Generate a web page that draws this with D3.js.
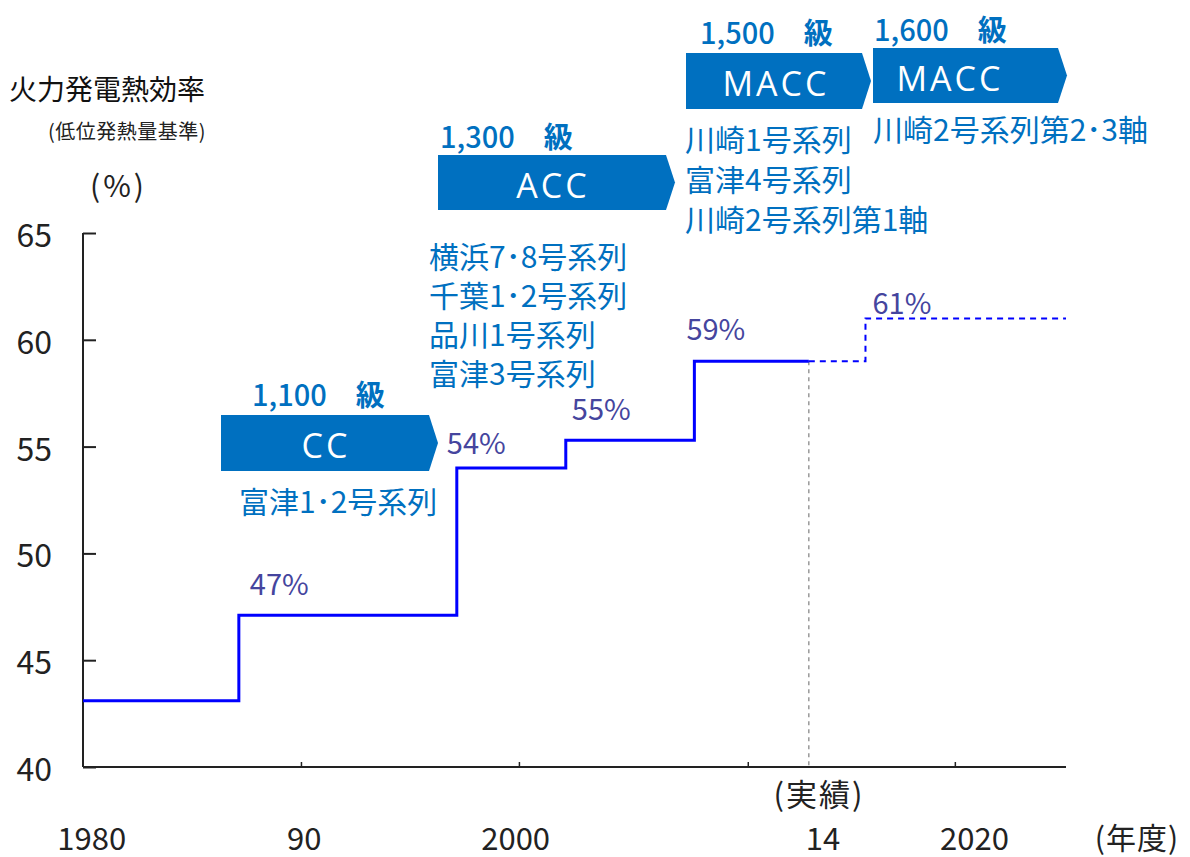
<!DOCTYPE html>
<meta charset="utf-8">
<style>
body { margin: 0; background: #fff; }
text { font-family: "Noto Sans CJK JP", "Noto Sans", sans-serif; }
.blue { fill: #0070c0; }
</style>
<script src="https://d3js.org/d3.v7.min.js"></script>
<div id="chart"></div>
<script>

// ---- data ----
var stepYears   = [1980, 1987.15, 1997.15, 2002.15, 2008.05, 2013.3];
var stepValues  = [43.1, 47.1, 54.0, 55.3, 59.0, 59.0];
var planYears   = [2013.3, 2015.9, 2025.1];
var planValues  = [59.0, 61.0, 61.0];
var pctLabels   = ["47%", "54%", "55%", "59%", "61%"];
var pctYears    = [1987.15, 1997.15, 2002.15, 2008.05, 2015.9];
var pctValues   = [47.1, 54.0, 55.3, 59.0, 61.0];
var actualYear  = 2013.3;

var yTicks      = [40, 45, 50, 55, 60, 65];
var xTickYears  = [1990, 2000, 2010.5, 2020];
var xLabelText  = ["1980", "90", "2000", "14", "2020"];
var xLabelYears = [1980.4, 1990.15, 1999.85, 2013.95, 2020.9];

var classNames  = ["CC", "ACC", "MACC", "MACC"];
var classLevels = ["1,100", "1,300", "1,500", "1,600"];
var classPlants = [
  ["富津1･2号系列"],
  ["横浜7･8号系列", "千葉1･2号系列", "品川1号系列", "富津3号系列"],
  ["川崎1号系列", "富津4号系列", "川崎2号系列第1軸"],
  ["川崎2号系列第2･3軸"]
];

// ---- layout ----
var W = 1190, H = 857;
var x = d3.scaleLinear().domain([1980, 2025.1]).range([83, 1066]);
var y = d3.scaleLinear().domain([40, 65]).range([767, 233]);

// pixel layout of the blue arrows + their text blocks
var boxLayout = [
  {x0: 221, x1: 429, top: 415, bot: 471, cx: 326, lvlX: 252, lvlY: 393, plX: 239, plY: 500, gap: 39},
  {x0: 438, x1: 666, top: 155, bot: 210, cx: 553, lvlX: 440, lvlY: 135, plX: 429, plY: 255, gap: 39},
  {x0: 686, x1: 862, top: 53,  bot: 109, cx: 776, lvlX: 700, lvlY: 31,  plX: 685, plY: 138, gap: 40},
  {x0: 873, x1: 1058, top: 48, bot: 103, cx: 950, lvlX: 874, lvlY: 28,  plX: 873, plY: 128, gap: 40}
];
var pctOffset = [[11, -33], [-10, -27], [6, -33], [-8, -34], [7, -17]];

var svg = d3.select("#chart").append("svg")
  .attr("width", W).attr("height", H);

// ---- axes ----
var yAxis = svg.append("g")
  .attr("transform", "translate(83,0)")
  .call(d3.axisRight(y).tickValues(yTicks).tickSize(13).tickFormat(""));
yAxis.select(".domain").attr("d", "M0," + y(65) + "V" + y(40)).attr("stroke", "#222").attr("stroke-width", 2);
yAxis.selectAll(".tick line").attr("stroke", "#222").attr("stroke-width", 2);

svg.selectAll(".ylab").data(yTicks).enter().append("text")
  .attr("class", "ylab")
  .attr("x", 52).attr("y", function(d) { return y(d); })
  .attr("text-anchor", "end").attr("dominant-baseline", "central")
  .style("font-size", "32px").style("fill", "#222")
  .text(function(d) { return d; });

var xAxis = svg.append("g")
  .attr("transform", "translate(0,767)")
  .call(d3.axisTop(x).tickValues(xTickYears).tickSize(5).tickFormat(""));
xAxis.select(".domain").attr("d", "M83,0H1066").attr("stroke", "#222").attr("stroke-width", 2);
xAxis.selectAll(".tick line").attr("stroke", "#222").attr("stroke-width", 1.5);

svg.selectAll(".xlab").data(xLabelText).enter().append("text")
  .attr("class", "xlab")
  .attr("x", function(d, i) { return x(xLabelYears[i]); }).attr("y", 836)
  .attr("text-anchor", "middle").attr("dominant-baseline", "central")
  .style("font-size", "31px").style("fill", "#222")
  .text(function(d) { return d; });

svg.append("text").attr("x", 1137).attr("y", 836)
  .attr("text-anchor", "middle").attr("dominant-baseline", "central")
  .style("font-size", "30px").style("fill", "#222").style("letter-spacing", "1px").text("(年度)");
svg.append("text").attr("x", 819).attr("y", 792)
  .attr("text-anchor", "middle").attr("dominant-baseline", "central")
  .style("font-size", "31px").style("fill", "#222").style("letter-spacing", "2px").text("(実績)");

// axis titles
svg.append("text").attr("x", 9).attr("y", 88).attr("dominant-baseline", "central")
  .style("font-size", "28px").style("fill", "#111").text("火力発電熱効率");
svg.append("text").attr("x", 48).attr("y", 130).attr("dominant-baseline", "central")
  .style("font-size", "20px").style("fill", "#222").style("letter-spacing", "0.5px").text("(低位発熱量基準)");
svg.append("text").attr("x", 90).attr("y", 184).attr("dominant-baseline", "central")
  .style("font-size", "30px").style("fill", "#222").style("letter-spacing", "3px").text("(%)");

// ---- lines ----
var line = d3.line()
  .x(function(d) { return x(d[0]); })
  .y(function(d) { return y(d[1]); })
  .curve(d3.curveStepAfter);

svg.append("line")
  .attr("x1", x(actualYear)).attr("x2", x(actualYear))
  .attr("y1", y(59.0)).attr("y2", y(40))
  .attr("stroke", "#999").attr("stroke-width", 1.5).attr("stroke-dasharray", "4,4");

svg.append("path")
  .datum(planYears.map(function(d, i) { return [d, planValues[i]]; }))
  .attr("d", line).attr("fill", "none")
  .attr("stroke", "#0000ff").attr("stroke-width", 2).attr("stroke-dasharray", "6,5");

svg.append("path")
  .datum(stepYears.map(function(d, i) { return [d, stepValues[i]]; }))
  .attr("d", line).attr("fill", "none")
  .attr("stroke", "#0000ff").attr("stroke-width", 3);

svg.selectAll(".pct").data(pctLabels).enter().append("text")
  .attr("class", "pct")
  .attr("x", function(d, i) { return x(pctYears[i]) + pctOffset[i][0]; })
  .attr("y", function(d, i) { return y(pctValues[i]) + pctOffset[i][1]; })
  .attr("dominant-baseline", "central")
  .style("font-size", "29px").style("fill", "#45459e")
  .text(function(d) { return d; });

// ---- technology arrows ----
var tip = 9;
boxLayout.forEach(function(b, i) {
  var g = svg.append("g");
  var mid = (b.top + b.bot) / 2;
  g.append("path")
    .attr("d", "M" + b.x0 + "," + b.top + "H" + b.x1 + "L" + (b.x1 + tip) + "," + mid +
               "L" + b.x1 + "," + b.bot + "H" + b.x0 + "Z")
    .attr("fill", "#0070c0");
  g.append("text").attr("x", b.cx).attr("y", mid + 2)
    .attr("text-anchor", "middle").attr("dominant-baseline", "central")
    .style("font-family", "'Open Sans', 'Noto Sans', sans-serif")
    .style("font-size", "34px").style("font-weight", 500).style("fill", "#fff").style("letter-spacing", "3px")
    .text(classNames[i]);

  var lvl = g.append("text").attr("class", "blue")
    .attr("x", b.lvlX).attr("y", b.lvlY).attr("dominant-baseline", "central")
    .style("font-size", "29px");
  lvl.append("tspan").style("font-weight", 500).text(classLevels[i] + "\u3000");
  lvl.append("tspan").style("font-weight", 700).text("級");

  g.selectAll(".plant").data(classPlants[i]).enter().append("text")
    .attr("class", "blue")
    .attr("x", b.plX).attr("y", function(d, j) { return b.plY + j * b.gap; })
    .attr("dominant-baseline", "central")
    .style("font-size", "30px")
    .text(function(d) { return d; });
});

</script>
